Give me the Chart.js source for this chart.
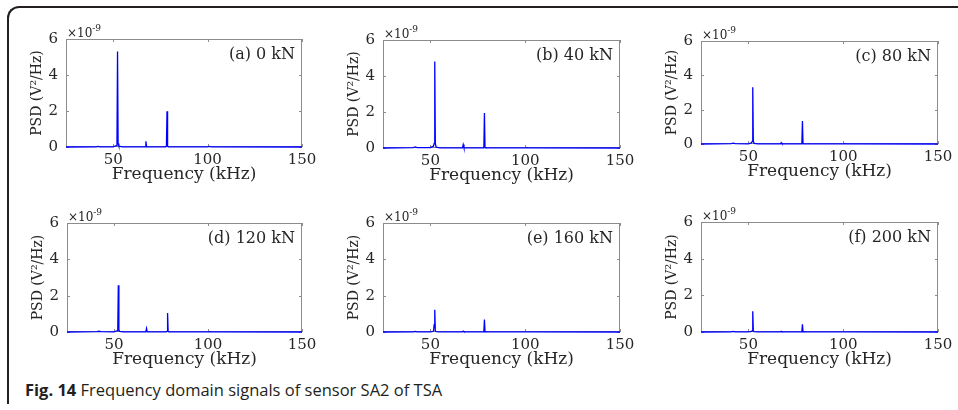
<!DOCTYPE html>
<html lang="en">
<head>
  <meta charset="UTF-8" />
  <title>Fig. 14 Frequency domain signals of sensor SA2 of TSA</title>
  <script src="https://cdn.jsdelivr.net/npm/chart.js"></script>
  <style>
    body {
      margin: 0;
      width: 958px;
      height: 410px;
      overflow: hidden;
      background: #fff;
      position: relative;
    }
    .frame {
      position: absolute;
      left: 7px;
      top: 6px;
      width: 980px;
      height: 396px;
      border-top: 2px solid #231f20;
      border-left: 2px solid #231f20;
      border-top-left-radius: 12px;
    }
    .panel {
      position: absolute;
    }
    .caption {
      position: absolute;
      left: 25px;
      top: 378px;
      font-family: "Open Sans", sans-serif;
      font-size: 16.5px;
      color: #231f20;
      white-space: nowrap;
    }
  </style>
</head>
<body>
  <div class="frame"></div>
  <div class="caption"><b>Fig. 14</b> Frequency domain signals of sensor SA2 of TSA</div>

  <script>
    // frequency points (kHz) shared by all spectra
    const freq = [25, 41, 42, 43, 50, 51.6, 52.0, 52.3, 52.6, 53.0, 55, 66.9, 67.3, 67.7, 77.8, 78.2, 78.5, 78.8, 79.2, 100, 101, 102, 150];

    // PSD values, in units of 1e-9 V^2/Hz
    const psd0kN   = [0, 0.01, 0.03, 0.01, 0.01, 0.08, 0.2, 5.3, 0.2, 0.05, 0.01, 0.01, 0.32, 0.01, 0.01, 0.05, 1.98, 0.05, 0.01, 0.01, 0.03, 0.01, 0];
    const psd40kN  = [0, 0.02, 0.06, 0.02, 0.02, 0.1, 0.25, 4.8, 0.25, 0.05, 0.01, 0.01, 0.19, 0.01, 0.01, 0.04, 1.94, 0.04, 0.01, 0.01, 0.02, 0.01, 0];
    const psd80kN  = [0, 0.02, 0.05, 0.02, 0.01, 0.06, 0.15, 3.3, 0.15, 0.04, 0.01, 0.01, 0.08, 0.01, 0.01, 0.03, 1.34, 0.03, 0.01, 0.01, 0.02, 0.01, 0];
    const psd120kN = [0, 0.02, 0.04, 0.02, 0.01, 0.06, 0.12, 2.57, 0.12, 0.03, 0.01, 0.01, 0.2, 0.01, 0.01, 0.03, 1.05, 0.03, 0.01, 0.01, 0.02, 0.01, 0];
    const psd160kN = [0, 0.01, 0.03, 0.01, 0.01, 0.04, 0.4, 1.23, 0.06, 0.02, 0.01, 0.01, 0.05, 0.01, 0.01, 0.02, 0.68, 0.02, 0.01, 0.01, 0.01, 0.01, 0];
    const psd200kN = [0, 0.01, 0.03, 0.01, 0.01, 0.03, 0.06, 1.13, 0.06, 0.02, 0.01, 0.01, 0.04, 0.01, 0.01, 0.02, 0.42, 0.02, 0.01, 0.01, 0.01, 0.01, 0];

    const series = [psd0kN, psd40kN, psd80kN, psd120kN, psd160kN, psd200kN];
    const panelLabels = ["(a) 0 kN", "(b) 40 kN", "(c) 80 kN", "(d) 120 kN", "(e) 160 kN", "(f) 200 kN"];

    const xTicks = [50, 100, 150];
    const yTicks = [0, 2, 4, 6];
    const xTitle = "Frequency (kHz)";
    const yTitle = "PSD (V\u00b2/Hz)";

    // plot area of each panel in the page: left, top, right, bottom
    const panelBoxes = [
      [66, 39, 302, 147],
      [383, 40, 620, 148],
      [701, 41, 938, 144],
      [67, 223, 302, 332],
      [383, 223, 620, 332],
      [701, 222, 938, 332]
    ];

    const serif = "'DejaVu Serif', serif";
    const textColor = "#262626";
    const padL = 60, padT = 25, padR = 20, padB = 45;

    // MATLAB-like box, inner ticks, exponent and panel label
    const axesBox = {
      id: "axesBox",
      beforeDatasetsDraw(chart) {
        const { ctx, chartArea: a, scales: { x, y } } = chart;
        ctx.save();
        ctx.strokeStyle = "#8c8c8c";
        ctx.lineWidth = 1;
        ctx.strokeRect(a.left + 0.5, a.top + 0.5, a.width - 1, a.height - 1);
        ctx.beginPath();
        xTicks.forEach(v => {
          const px = Math.round(x.getPixelForValue(v)) + 0.5;
          ctx.moveTo(px, a.bottom); ctx.lineTo(px, a.bottom - 3);
          ctx.moveTo(px, a.top); ctx.lineTo(px, a.top + 3);
        });
        yTicks.forEach(v => {
          const py = Math.round(y.getPixelForValue(v)) + 0.5;
          ctx.moveTo(a.left, py); ctx.lineTo(a.left + 3, py);
          ctx.moveTo(a.right, py); ctx.lineTo(a.right - 3, py);
        });
        ctx.stroke();
        ctx.restore();
      },
      afterDraw(chart, args, opts) {
        const { ctx, chartArea: a } = chart;
        ctx.save();
        ctx.fillStyle = textColor;
        ctx.textBaseline = "alphabetic";
        ctx.textAlign = "left";
        ctx.font = "12px " + serif;
        ctx.fillText("\u00d710", a.left + 1, a.top - 2);
        const w = ctx.measureText("\u00d710").width;
        ctx.font = "9px " + serif;
        ctx.fillText("-9", a.left + 1 + w, a.top - 8);
        ctx.font = "16px " + serif;
        ctx.textAlign = "right";
        ctx.textBaseline = "middle";
        ctx.fillText(opts.label, a.right - 7, a.top + 16);
        ctx.restore();
      }
    };

    function makePanel(i) {
      const [l, t, r, b] = panelBoxes[i];
      const w = r - l + padL + padR;
      const h = b - t + padT + padB;
      const canvas = document.createElement("canvas");
      canvas.className = "panel";
      canvas.width = w;
      canvas.height = h;
      canvas.style.left = (l - padL) + "px";
      canvas.style.top = (t - padT) + "px";
      canvas.style.width = w + "px";
      canvas.style.height = h + "px";
      document.body.appendChild(canvas);

      new Chart(canvas, {
        type: "line",
        data: {
          datasets: [{
            data: freq.map((f, k) => ({ x: f, y: series[i][k] })),
            borderColor: "#0000ff",
            borderWidth: 1.3,
            pointRadius: 0,
            tension: 0,
            clip: false
          }]
        },
        options: {
          responsive: false,
          animation: false,
          layout: { padding: { left: 0, top: padT, right: padR, bottom: 0 } },
          plugins: {
            legend: { display: false },
            tooltip: { enabled: false },
            axesBox: { label: panelLabels[i] }
          },
          scales: {
            x: {
              type: "linear",
              min: 25,
              max: 150,
              afterBuildTicks: s => { s.ticks = xTicks.map(v => ({ value: v })); },
              afterFit: s => { s.height = padB; },
              grid: { display: false, drawTicks: false },
              border: { display: false },
              ticks: { font: { family: serif, size: 15 }, color: textColor, padding: 4, maxRotation: 0 },
              title: {
                display: true,
                text: xTitle,
                font: { family: serif, size: 17 },
                color: textColor,
                padding: { top: 0, bottom: 7 }
              }
            },
            y: {
              min: 0,
              max: 6,
              afterBuildTicks: s => { s.ticks = yTicks.map(v => ({ value: v })); },
              afterFit: s => { s.width = padL; },
              grid: { display: false, drawTicks: false },
              border: { display: false },
              ticks: { font: { family: serif, size: 15 }, color: textColor, padding: 8 },
              title: {
                display: true,
                text: yTitle,
                font: { family: serif, size: 14 },
                color: textColor,
                padding: { top: 23, bottom: 0 }
              }
            }
          }
        },
        plugins: [axesBox]
      });
    }

    for (let i = 0; i < series.length; i++) makePanel(i);
  </script>
</body>
</html>
